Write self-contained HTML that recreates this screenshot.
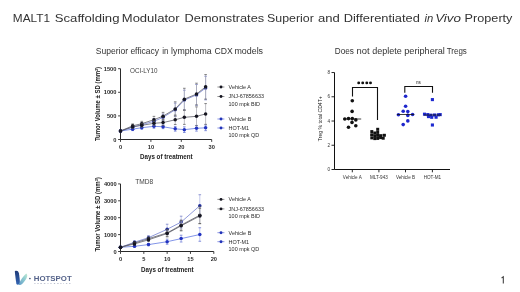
<!DOCTYPE html>
<html><head><meta charset="utf-8"><style>
html,body{margin:0;padding:0;background:#fff;}
body{width:520px;height:292px;overflow:hidden;position:relative;font-family:"Liberation Sans",sans-serif;}
svg{position:absolute;left:0;top:0;will-change:transform;}
</style></head><body>
<svg width="520" height="292" viewBox="0 0 520 292">
<path d="M120.5,68.70 V139.5 H211.70" fill="none" stroke="#2a2a2a" stroke-width="1"/>
<path d="M118.1,139.50 H120.5" stroke="#2a2a2a" stroke-width="0.9"/>
<text x="116.4" y="141.60" font-size="5.7" font-weight="bold" text-anchor="end" fill="#2a2a2a" font-family="Liberation Sans, sans-serif">0</text>
<path d="M118.1,115.90 H120.5" stroke="#2a2a2a" stroke-width="0.9"/>
<text x="116.4" y="118.00" font-size="5.7" font-weight="bold" text-anchor="end" fill="#2a2a2a" font-family="Liberation Sans, sans-serif">500</text>
<path d="M118.1,92.30 H120.5" stroke="#2a2a2a" stroke-width="0.9"/>
<text x="116.4" y="94.40" font-size="5.7" font-weight="bold" text-anchor="end" fill="#2a2a2a" font-family="Liberation Sans, sans-serif">1000</text>
<path d="M118.1,68.70 H120.5" stroke="#2a2a2a" stroke-width="0.9"/>
<text x="116.4" y="70.80" font-size="5.7" font-weight="bold" text-anchor="end" fill="#2a2a2a" font-family="Liberation Sans, sans-serif">1500</text>
<path d="M120.50,139.5 V141.9" stroke="#2a2a2a" stroke-width="0.9"/>
<text x="120.50" y="148.80" font-size="5.7" font-weight="bold" text-anchor="middle" fill="#2a2a2a" font-family="Liberation Sans, sans-serif">0</text>
<path d="M150.90,139.5 V141.9" stroke="#2a2a2a" stroke-width="0.9"/>
<text x="150.90" y="148.80" font-size="5.7" font-weight="bold" text-anchor="middle" fill="#2a2a2a" font-family="Liberation Sans, sans-serif">10</text>
<path d="M181.30,139.5 V141.9" stroke="#2a2a2a" stroke-width="0.9"/>
<text x="181.30" y="148.80" font-size="5.7" font-weight="bold" text-anchor="middle" fill="#2a2a2a" font-family="Liberation Sans, sans-serif">20</text>
<path d="M211.70,139.5 V141.9" stroke="#2a2a2a" stroke-width="0.9"/>
<text x="211.70" y="148.80" font-size="5.7" font-weight="bold" text-anchor="middle" fill="#2a2a2a" font-family="Liberation Sans, sans-serif">30</text>
<path d="M132.66,125.58 V128.88" stroke="#a8b0e4" stroke-width="0.7" fill="none"/>
<path d="M131.36,125.58 H133.96 M131.36,128.88 H133.96" stroke="#6670c0" stroke-width="0.7" fill="none"/>
<path d="M141.78,122.51 V126.76" stroke="#a8b0e4" stroke-width="0.7" fill="none"/>
<path d="M140.48,122.51 H143.08 M140.48,126.76 H143.08" stroke="#6670c0" stroke-width="0.7" fill="none"/>
<path d="M153.94,118.50 V124.16" stroke="#a8b0e4" stroke-width="0.7" fill="none"/>
<path d="M152.64,118.50 H155.24 M152.64,124.16 H155.24" stroke="#6670c0" stroke-width="0.7" fill="none"/>
<path d="M163.06,114.01 V120.62" stroke="#a8b0e4" stroke-width="0.7" fill="none"/>
<path d="M161.76,114.01 H164.36 M161.76,120.62 H164.36" stroke="#6670c0" stroke-width="0.7" fill="none"/>
<path d="M175.22,103.16 V116.37" stroke="#a8b0e4" stroke-width="0.7" fill="none"/>
<path d="M173.92,103.16 H176.52 M173.92,116.37 H176.52" stroke="#6670c0" stroke-width="0.7" fill="none"/>
<path d="M184.34,90.18 V110.00" stroke="#a8b0e4" stroke-width="0.7" fill="none"/>
<path d="M183.04,90.18 H185.64 M183.04,110.00 H185.64" stroke="#6670c0" stroke-width="0.7" fill="none"/>
<path d="M196.50,84.51 V105.28" stroke="#a8b0e4" stroke-width="0.7" fill="none"/>
<path d="M195.20,84.51 H197.80 M195.20,105.28 H197.80" stroke="#6670c0" stroke-width="0.7" fill="none"/>
<path d="M205.62,76.25 V99.85" stroke="#a8b0e4" stroke-width="0.7" fill="none"/>
<path d="M204.32,76.25 H206.92 M204.32,99.85 H206.92" stroke="#6670c0" stroke-width="0.7" fill="none"/>
<path d="M120.50,131.00 L132.66,127.23 L141.78,124.63 L153.94,121.33 L163.06,117.32 L175.22,109.76 L184.34,100.09 L196.50,94.90 L205.62,88.05" fill="none" stroke="#7480d0" stroke-width="0.8"/>
<circle cx="120.50" cy="131.00" r="1.75" fill="#23309a"/>
<circle cx="132.66" cy="127.23" r="1.75" fill="#23309a"/>
<circle cx="141.78" cy="124.63" r="1.75" fill="#23309a"/>
<circle cx="153.94" cy="121.33" r="1.75" fill="#23309a"/>
<circle cx="163.06" cy="117.32" r="1.75" fill="#23309a"/>
<circle cx="175.22" cy="109.76" r="1.75" fill="#23309a"/>
<circle cx="184.34" cy="100.09" r="1.75" fill="#23309a"/>
<circle cx="196.50" cy="94.90" r="1.75" fill="#23309a"/>
<circle cx="205.62" cy="88.05" r="1.75" fill="#23309a"/>
<path d="M132.66,127.75 V130.58" stroke="#a0aaea" stroke-width="0.7" fill="none"/>
<path d="M131.36,127.75 H133.96 M131.36,130.58 H133.96" stroke="#5566cc" stroke-width="0.7" fill="none"/>
<path d="M141.78,126.28 V129.12" stroke="#a0aaea" stroke-width="0.7" fill="none"/>
<path d="M140.48,126.28 H143.08 M140.48,129.12 H143.08" stroke="#5566cc" stroke-width="0.7" fill="none"/>
<path d="M153.94,124.44 V128.22" stroke="#a0aaea" stroke-width="0.7" fill="none"/>
<path d="M152.64,124.44 H155.24 M152.64,128.22 H155.24" stroke="#5566cc" stroke-width="0.7" fill="none"/>
<path d="M163.06,124.87 V128.64" stroke="#a0aaea" stroke-width="0.7" fill="none"/>
<path d="M161.76,124.87 H164.36 M161.76,128.64 H164.36" stroke="#5566cc" stroke-width="0.7" fill="none"/>
<path d="M175.22,126.43 V131.15" stroke="#a0aaea" stroke-width="0.7" fill="none"/>
<path d="M173.92,126.43 H176.52 M173.92,131.15 H176.52" stroke="#5566cc" stroke-width="0.7" fill="none"/>
<path d="M184.34,126.85 V132.51" stroke="#a0aaea" stroke-width="0.7" fill="none"/>
<path d="M183.04,126.85 H185.64 M183.04,132.51 H185.64" stroke="#5566cc" stroke-width="0.7" fill="none"/>
<path d="M196.50,125.43 V131.10" stroke="#a0aaea" stroke-width="0.7" fill="none"/>
<path d="M195.20,125.43 H197.80 M195.20,131.10 H197.80" stroke="#5566cc" stroke-width="0.7" fill="none"/>
<path d="M205.62,125.01 V130.67" stroke="#a0aaea" stroke-width="0.7" fill="none"/>
<path d="M204.32,125.01 H206.92 M204.32,130.67 H206.92" stroke="#5566cc" stroke-width="0.7" fill="none"/>
<path d="M120.50,131.00 L132.66,129.16 L141.78,127.70 L153.94,126.33 L163.06,126.76 L175.22,128.79 L184.34,129.68 L196.50,128.27 L205.62,127.84" fill="none" stroke="#5a72e0" stroke-width="0.75"/>
<circle cx="120.50" cy="131.00" r="1.75" fill="#2233c0"/>
<circle cx="132.66" cy="129.16" r="1.75" fill="#2233c0"/>
<circle cx="141.78" cy="127.70" r="1.75" fill="#2233c0"/>
<circle cx="153.94" cy="126.33" r="1.75" fill="#2233c0"/>
<circle cx="163.06" cy="126.76" r="1.75" fill="#2233c0"/>
<circle cx="175.22" cy="128.79" r="1.75" fill="#2233c0"/>
<circle cx="184.34" cy="129.68" r="1.75" fill="#2233c0"/>
<circle cx="196.50" cy="128.27" r="1.75" fill="#2233c0"/>
<circle cx="205.62" cy="127.84" r="1.75" fill="#2233c0"/>
<path d="M132.66,123.92 V127.70" stroke="#a0a0aa" stroke-width="0.7" fill="none"/>
<path d="M131.36,123.92 H133.96 M131.36,127.70 H133.96" stroke="#555" stroke-width="0.7" fill="none"/>
<path d="M141.78,121.33 V126.05" stroke="#a0a0aa" stroke-width="0.7" fill="none"/>
<path d="M140.48,121.33 H143.08 M140.48,126.05 H143.08" stroke="#555" stroke-width="0.7" fill="none"/>
<path d="M153.94,116.37 V122.98" stroke="#a0a0aa" stroke-width="0.7" fill="none"/>
<path d="M152.64,116.37 H155.24 M152.64,122.98 H155.24" stroke="#555" stroke-width="0.7" fill="none"/>
<path d="M163.06,112.36 V119.91" stroke="#a0a0aa" stroke-width="0.7" fill="none"/>
<path d="M161.76,112.36 H164.36 M161.76,119.91 H164.36" stroke="#555" stroke-width="0.7" fill="none"/>
<path d="M175.22,101.83 V115.99" stroke="#a0a0aa" stroke-width="0.7" fill="none"/>
<path d="M173.92,101.83 H176.52 M173.92,115.99 H176.52" stroke="#555" stroke-width="0.7" fill="none"/>
<path d="M184.34,88.29 V110.00" stroke="#a0a0aa" stroke-width="0.7" fill="none"/>
<path d="M183.04,88.29 H185.64 M183.04,110.00 H185.64" stroke="#555" stroke-width="0.7" fill="none"/>
<path d="M196.50,83.19 V104.90" stroke="#a0a0aa" stroke-width="0.7" fill="none"/>
<path d="M195.20,83.19 H197.80 M195.20,104.90 H197.80" stroke="#555" stroke-width="0.7" fill="none"/>
<path d="M205.62,74.55 V99.10" stroke="#a0a0aa" stroke-width="0.7" fill="none"/>
<path d="M204.32,74.55 H206.92 M204.32,99.10 H206.92" stroke="#555" stroke-width="0.7" fill="none"/>
<path d="M120.50,131.00 L132.66,125.81 L141.78,123.69 L153.94,119.68 L163.06,116.14 L175.22,108.91 L184.34,99.14 L196.50,94.05 L205.62,86.82" fill="none" stroke="#555560" stroke-width="0.75"/>
<circle cx="120.50" cy="131.00" r="1.75" fill="#151520"/>
<circle cx="132.66" cy="125.81" r="1.75" fill="#151520"/>
<circle cx="141.78" cy="123.69" r="1.75" fill="#151520"/>
<circle cx="153.94" cy="119.68" r="1.75" fill="#151520"/>
<circle cx="163.06" cy="116.14" r="1.75" fill="#151520"/>
<circle cx="175.22" cy="108.91" r="1.75" fill="#151520"/>
<circle cx="184.34" cy="99.14" r="1.75" fill="#151520"/>
<circle cx="196.50" cy="94.05" r="1.75" fill="#151520"/>
<circle cx="205.62" cy="86.82" r="1.75" fill="#151520"/>
<path d="M132.66,125.20 V128.50" stroke="#a0a0aa" stroke-width="0.7" fill="none"/>
<path d="M131.36,125.20 H133.96 M131.36,128.50 H133.96" stroke="#555" stroke-width="0.7" fill="none"/>
<path d="M141.78,123.45 V127.23" stroke="#a0a0aa" stroke-width="0.7" fill="none"/>
<path d="M140.48,123.45 H143.08 M140.48,127.23 H143.08" stroke="#555" stroke-width="0.7" fill="none"/>
<path d="M153.94,120.95 V125.67" stroke="#a0a0aa" stroke-width="0.7" fill="none"/>
<path d="M152.64,120.95 H155.24 M152.64,125.67 H155.24" stroke="#555" stroke-width="0.7" fill="none"/>
<path d="M163.06,119.77 V125.43" stroke="#a0a0aa" stroke-width="0.7" fill="none"/>
<path d="M161.76,119.77 H164.36 M161.76,125.43 H164.36" stroke="#555" stroke-width="0.7" fill="none"/>
<path d="M175.22,115.05 V124.49" stroke="#a0a0aa" stroke-width="0.7" fill="none"/>
<path d="M173.92,115.05 H176.52 M173.92,124.49 H176.52" stroke="#555" stroke-width="0.7" fill="none"/>
<path d="M184.34,110.24 V124.40" stroke="#a0a0aa" stroke-width="0.7" fill="none"/>
<path d="M183.04,110.24 H185.64 M183.04,124.40 H185.64" stroke="#555" stroke-width="0.7" fill="none"/>
<path d="M196.50,106.88 V125.76" stroke="#a0a0aa" stroke-width="0.7" fill="none"/>
<path d="M195.20,106.88 H197.80 M195.20,125.76 H197.80" stroke="#555" stroke-width="0.7" fill="none"/>
<path d="M205.62,103.58 V124.35" stroke="#a0a0aa" stroke-width="0.7" fill="none"/>
<path d="M204.32,103.58 H206.92 M204.32,124.35 H206.92" stroke="#555" stroke-width="0.7" fill="none"/>
<path d="M120.50,131.00 L132.66,126.85 L141.78,125.34 L153.94,123.31 L163.06,122.60 L175.22,119.77 L184.34,117.32 L196.50,116.32 L205.62,113.96" fill="none" stroke="#555560" stroke-width="0.75"/>
<circle cx="120.50" cy="131.00" r="1.75" fill="#151520"/>
<circle cx="132.66" cy="126.85" r="1.75" fill="#151520"/>
<circle cx="141.78" cy="125.34" r="1.75" fill="#151520"/>
<circle cx="153.94" cy="123.31" r="1.75" fill="#151520"/>
<circle cx="163.06" cy="122.60" r="1.75" fill="#151520"/>
<circle cx="175.22" cy="119.77" r="1.75" fill="#151520"/>
<circle cx="184.34" cy="117.32" r="1.75" fill="#151520"/>
<circle cx="196.50" cy="116.32" r="1.75" fill="#151520"/>
<circle cx="205.62" cy="113.96" r="1.75" fill="#151520"/>
<path d="M120.5,183.90 V251.5 H213.80" fill="none" stroke="#2a2a2a" stroke-width="1"/>
<path d="M118.1,251.50 H120.5" stroke="#2a2a2a" stroke-width="0.9"/>
<text x="116.6" y="253.60" font-size="5.7" font-weight="bold" text-anchor="end" fill="#2a2a2a" font-family="Liberation Sans, sans-serif">0</text>
<path d="M118.1,234.60 H120.5" stroke="#2a2a2a" stroke-width="0.9"/>
<text x="116.6" y="236.70" font-size="5.7" font-weight="bold" text-anchor="end" fill="#2a2a2a" font-family="Liberation Sans, sans-serif">1000</text>
<path d="M118.1,217.70 H120.5" stroke="#2a2a2a" stroke-width="0.9"/>
<text x="116.6" y="219.80" font-size="5.7" font-weight="bold" text-anchor="end" fill="#2a2a2a" font-family="Liberation Sans, sans-serif">2000</text>
<path d="M118.1,200.80 H120.5" stroke="#2a2a2a" stroke-width="0.9"/>
<text x="116.6" y="202.90" font-size="5.7" font-weight="bold" text-anchor="end" fill="#2a2a2a" font-family="Liberation Sans, sans-serif">3000</text>
<path d="M118.1,183.90 H120.5" stroke="#2a2a2a" stroke-width="0.9"/>
<text x="116.6" y="186.00" font-size="5.7" font-weight="bold" text-anchor="end" fill="#2a2a2a" font-family="Liberation Sans, sans-serif">4000</text>
<path d="M120.50,251.5 V253.9" stroke="#2a2a2a" stroke-width="0.9"/>
<text x="120.50" y="260.80" font-size="5.7" font-weight="bold" text-anchor="middle" fill="#2a2a2a" font-family="Liberation Sans, sans-serif">0</text>
<path d="M143.82,251.5 V253.9" stroke="#2a2a2a" stroke-width="0.9"/>
<text x="143.82" y="260.80" font-size="5.7" font-weight="bold" text-anchor="middle" fill="#2a2a2a" font-family="Liberation Sans, sans-serif">5</text>
<path d="M167.15,251.5 V253.9" stroke="#2a2a2a" stroke-width="0.9"/>
<text x="167.15" y="260.80" font-size="5.7" font-weight="bold" text-anchor="middle" fill="#2a2a2a" font-family="Liberation Sans, sans-serif">10</text>
<path d="M190.47,251.5 V253.9" stroke="#2a2a2a" stroke-width="0.9"/>
<text x="190.47" y="260.80" font-size="5.7" font-weight="bold" text-anchor="middle" fill="#2a2a2a" font-family="Liberation Sans, sans-serif">15</text>
<path d="M213.80,251.5 V253.9" stroke="#2a2a2a" stroke-width="0.9"/>
<text x="213.80" y="260.80" font-size="5.7" font-weight="bold" text-anchor="middle" fill="#2a2a2a" font-family="Liberation Sans, sans-serif">20</text>
<path d="M134.50,240.85 V243.56" stroke="#a8b0e4" stroke-width="0.7" fill="none"/>
<path d="M133.19,240.85 H135.80 M133.19,243.56 H135.80" stroke="#6670c0" stroke-width="0.7" fill="none"/>
<path d="M148.49,235.66 V239.72" stroke="#a8b0e4" stroke-width="0.7" fill="none"/>
<path d="M147.19,235.66 H149.79 M147.19,239.72 H149.79" stroke="#6670c0" stroke-width="0.7" fill="none"/>
<path d="M167.15,224.22 V234.36" stroke="#a8b0e4" stroke-width="0.7" fill="none"/>
<path d="M165.85,224.22 H168.45 M165.85,234.36 H168.45" stroke="#6670c0" stroke-width="0.7" fill="none"/>
<path d="M181.15,216.18 V228.01" stroke="#a8b0e4" stroke-width="0.7" fill="none"/>
<path d="M179.84,216.18 H182.45 M179.84,228.01 H182.45" stroke="#6670c0" stroke-width="0.7" fill="none"/>
<path d="M199.81,194.72 V216.69" stroke="#a8b0e4" stroke-width="0.7" fill="none"/>
<path d="M198.50,194.72 H201.11 M198.50,216.69 H201.11" stroke="#6670c0" stroke-width="0.7" fill="none"/>
<path d="M120.50,247.31 L134.50,242.21 L148.49,237.69 L167.15,229.29 L181.15,222.09 L199.81,205.70" fill="none" stroke="#7480d0" stroke-width="0.8"/>
<circle cx="120.50" cy="247.31" r="1.75" fill="#23309a"/>
<circle cx="134.50" cy="242.21" r="1.75" fill="#23309a"/>
<circle cx="148.49" cy="237.69" r="1.75" fill="#23309a"/>
<circle cx="167.15" cy="229.29" r="1.75" fill="#23309a"/>
<circle cx="181.15" cy="222.09" r="1.75" fill="#23309a"/>
<circle cx="199.81" cy="205.70" r="1.75" fill="#23309a"/>
<path d="M134.50,245.28 V247.31" stroke="#a0aaea" stroke-width="0.7" fill="none"/>
<path d="M133.19,245.28 H135.80 M133.19,247.31 H135.80" stroke="#5566cc" stroke-width="0.7" fill="none"/>
<path d="M148.49,243.42 V245.79" stroke="#a0aaea" stroke-width="0.7" fill="none"/>
<path d="M147.19,243.42 H149.79 M147.19,245.79 H149.79" stroke="#5566cc" stroke-width="0.7" fill="none"/>
<path d="M167.15,239.16 V244.23" stroke="#a0aaea" stroke-width="0.7" fill="none"/>
<path d="M165.85,239.16 H168.45 M165.85,244.23 H168.45" stroke="#5566cc" stroke-width="0.7" fill="none"/>
<path d="M181.15,235.23 V241.99" stroke="#a0aaea" stroke-width="0.7" fill="none"/>
<path d="M179.84,235.23 H182.45 M179.84,241.99 H182.45" stroke="#5566cc" stroke-width="0.7" fill="none"/>
<path d="M199.81,227.74 V241.26" stroke="#a0aaea" stroke-width="0.7" fill="none"/>
<path d="M198.50,227.74 H201.11 M198.50,241.26 H201.11" stroke="#5566cc" stroke-width="0.7" fill="none"/>
<path d="M120.50,247.31 L134.50,246.29 L148.49,244.60 L167.15,241.70 L181.15,238.61 L199.81,234.50" fill="none" stroke="#5a72e0" stroke-width="0.75"/>
<circle cx="120.50" cy="247.31" r="1.75" fill="#2233c0"/>
<circle cx="134.50" cy="246.29" r="1.75" fill="#2233c0"/>
<circle cx="148.49" cy="244.60" r="1.75" fill="#2233c0"/>
<circle cx="167.15" cy="241.70" r="1.75" fill="#2233c0"/>
<circle cx="181.15" cy="238.61" r="1.75" fill="#2233c0"/>
<circle cx="199.81" cy="234.50" r="1.75" fill="#2233c0"/>
<path d="M134.50,241.70 V244.40" stroke="#a0a0aa" stroke-width="0.7" fill="none"/>
<path d="M133.19,241.70 H135.80 M133.19,244.40 H135.80" stroke="#555" stroke-width="0.7" fill="none"/>
<path d="M148.49,236.97 V240.35" stroke="#a0a0aa" stroke-width="0.7" fill="none"/>
<path d="M147.19,236.97 H149.79 M147.19,240.35 H149.79" stroke="#555" stroke-width="0.7" fill="none"/>
<path d="M167.15,229.53 V236.29" stroke="#a0a0aa" stroke-width="0.7" fill="none"/>
<path d="M165.85,229.53 H168.45 M165.85,236.29 H168.45" stroke="#555" stroke-width="0.7" fill="none"/>
<path d="M181.15,220.07 V230.21" stroke="#a0a0aa" stroke-width="0.7" fill="none"/>
<path d="M179.84,220.07 H182.45 M179.84,230.21 H182.45" stroke="#555" stroke-width="0.7" fill="none"/>
<path d="M199.81,206.72 V223.62" stroke="#a0a0aa" stroke-width="0.7" fill="none"/>
<path d="M198.50,206.72 H201.11 M198.50,223.62 H201.11" stroke="#555" stroke-width="0.7" fill="none"/>
<path d="M120.50,247.31 L134.50,243.05 L148.49,238.66 L167.15,232.91 L181.15,225.14 L199.81,215.17" fill="none" stroke="#555560" stroke-width="0.75"/>
<circle cx="120.50" cy="247.31" r="1.75" fill="#151520"/>
<circle cx="134.50" cy="243.05" r="1.75" fill="#151520"/>
<circle cx="148.49" cy="238.66" r="1.75" fill="#151520"/>
<circle cx="167.15" cy="232.91" r="1.75" fill="#151520"/>
<circle cx="181.15" cy="225.14" r="1.75" fill="#151520"/>
<circle cx="199.81" cy="215.17" r="1.75" fill="#151520"/>
<path d="M134.50,242.54 V245.25" stroke="#a0a0aa" stroke-width="0.7" fill="none"/>
<path d="M133.19,242.54 H135.80 M133.19,245.25 H135.80" stroke="#555" stroke-width="0.7" fill="none"/>
<path d="M148.49,238.12 V241.50" stroke="#a0a0aa" stroke-width="0.7" fill="none"/>
<path d="M147.19,238.12 H149.79 M147.19,241.50 H149.79" stroke="#555" stroke-width="0.7" fill="none"/>
<path d="M167.15,230.12 V236.88" stroke="#a0a0aa" stroke-width="0.7" fill="none"/>
<path d="M165.85,230.12 H168.45 M165.85,236.88 H168.45" stroke="#555" stroke-width="0.7" fill="none"/>
<path d="M181.15,220.74 V230.88" stroke="#a0a0aa" stroke-width="0.7" fill="none"/>
<path d="M179.84,220.74 H182.45 M179.84,230.88 H182.45" stroke="#555" stroke-width="0.7" fill="none"/>
<path d="M199.81,208.41 V223.61" stroke="#a0a0aa" stroke-width="0.7" fill="none"/>
<path d="M198.50,208.41 H201.11 M198.50,223.61 H201.11" stroke="#555" stroke-width="0.7" fill="none"/>
<path d="M120.50,247.31 L134.50,243.90 L148.49,239.81 L167.15,233.50 L181.15,225.81 L199.81,216.01" fill="none" stroke="#555560" stroke-width="0.75"/>
<circle cx="120.50" cy="247.31" r="1.75" fill="#151520"/>
<circle cx="134.50" cy="243.90" r="1.75" fill="#151520"/>
<circle cx="148.49" cy="239.81" r="1.75" fill="#151520"/>
<circle cx="167.15" cy="233.50" r="1.75" fill="#151520"/>
<circle cx="181.15" cy="225.81" r="1.75" fill="#151520"/>
<circle cx="199.81" cy="216.01" r="1.75" fill="#151520"/>
<path d="M217.4,87 H224.4" stroke="#666" stroke-width="0.7"/>
<circle cx="221" cy="87" r="1.45" fill="#151520"/>
<text x="228.6" y="88.90" font-size="5.45" fill="#2a2a2a" font-family="Liberation Sans, sans-serif">Vehicle A</text>
<path d="M217.4,96.5 H224.4" stroke="#666" stroke-width="0.7"/>
<circle cx="221" cy="96.5" r="1.45" fill="#151520"/>
<text x="228.6" y="98.40" font-size="5.45" fill="#2a2a2a" font-family="Liberation Sans, sans-serif">JNJ-67856633</text>
<text x="228.6" y="105.70" font-size="5.45" fill="#2a2a2a" font-family="Liberation Sans, sans-serif">100 mpk BID</text>
<path d="M217.4,119 H224.4" stroke="#5a6ad8" stroke-width="0.7"/>
<circle cx="221" cy="119" r="1.45" fill="#2233b8"/>
<text x="228.6" y="120.90" font-size="5.45" fill="#2a2a2a" font-family="Liberation Sans, sans-serif">Vehicle B</text>
<path d="M217.4,128 H224.4" stroke="#5a6ad8" stroke-width="0.7"/>
<circle cx="221" cy="128" r="1.45" fill="#2233b8"/>
<text x="228.6" y="129.90" font-size="5.45" fill="#2a2a2a" font-family="Liberation Sans, sans-serif">HOT-M1</text>
<text x="228.6" y="137.20" font-size="5.45" fill="#2a2a2a" font-family="Liberation Sans, sans-serif">100 mpk QD</text>
<path d="M217.4,199.4 H224.4" stroke="#666" stroke-width="0.7"/>
<circle cx="221" cy="199.4" r="1.45" fill="#151520"/>
<text x="228.6" y="201.30" font-size="5.45" fill="#2a2a2a" font-family="Liberation Sans, sans-serif">Vehicle A</text>
<path d="M217.4,208.9 H224.4" stroke="#666" stroke-width="0.7"/>
<circle cx="221" cy="208.9" r="1.45" fill="#151520"/>
<text x="228.6" y="210.80" font-size="5.45" fill="#2a2a2a" font-family="Liberation Sans, sans-serif">JNJ-67856633</text>
<text x="228.6" y="218.10" font-size="5.45" fill="#2a2a2a" font-family="Liberation Sans, sans-serif">100 mpk BID</text>
<path d="M217.4,232.7 H224.4" stroke="#5a6ad8" stroke-width="0.7"/>
<circle cx="221" cy="232.7" r="1.45" fill="#2233b8"/>
<text x="228.6" y="234.60" font-size="5.45" fill="#2a2a2a" font-family="Liberation Sans, sans-serif">Vehicle B</text>
<path d="M217.4,241.7 H224.4" stroke="#5a6ad8" stroke-width="0.7"/>
<circle cx="221" cy="241.7" r="1.45" fill="#2233b8"/>
<text x="228.6" y="243.60" font-size="5.45" fill="#2a2a2a" font-family="Liberation Sans, sans-serif">HOT-M1</text>
<text x="228.6" y="250.90" font-size="5.45" fill="#2a2a2a" font-family="Liberation Sans, sans-serif">100 mpk QD</text>
<text x="130" y="72.5" font-size="6.3" fill="#444" textLength="27.6" lengthAdjust="spacingAndGlyphs" font-family="Liberation Sans, sans-serif">OCI-LY10</text>
<text x="135.2" y="183.7" font-size="6.3" fill="#444" textLength="18" lengthAdjust="spacingAndGlyphs" font-family="Liberation Sans, sans-serif">TMD8</text>
<text x="140" y="158.6" font-size="6.3" font-weight="bold" fill="#222" textLength="52.6" lengthAdjust="spacingAndGlyphs" font-family="Liberation Sans, sans-serif">Days of treatment</text>
<text x="141" y="272" font-size="6.3" font-weight="bold" fill="#222" textLength="52.6" lengthAdjust="spacingAndGlyphs" font-family="Liberation Sans, sans-serif">Days of treatment</text>
<text transform="translate(100.2,141.1) rotate(-90)" font-size="6.4" font-weight="bold" fill="#222" textLength="74.19999999999999" lengthAdjust="spacingAndGlyphs" font-family="Liberation Sans, sans-serif">Tumor Volume ± SD (mm<tspan font-size="4" dy="-2.4">3</tspan><tspan dy="2.4">)</tspan></text>
<text transform="translate(100.1,251.6) rotate(-90)" font-size="6.4" font-weight="bold" fill="#222" textLength="74.4" lengthAdjust="spacingAndGlyphs" font-family="Liberation Sans, sans-serif">Tumor Volume ± SD (mm<tspan font-size="4" dy="-2.4">3</tspan><tspan dy="2.4">)</tspan></text>
<path d="M334.5,72.54 V169.5 H450" fill="none" stroke="#111" stroke-width="1"/>
<path d="M331.5,169.50 H334.5" stroke="#111" stroke-width="0.9"/>
<text x="330.1" y="171.10" font-size="4.6" text-anchor="end" fill="#333" font-family="Liberation Sans, sans-serif">0</text>
<path d="M331.5,145.26 H334.5" stroke="#111" stroke-width="0.9"/>
<text x="330.1" y="146.86" font-size="4.6" text-anchor="end" fill="#333" font-family="Liberation Sans, sans-serif">2</text>
<path d="M331.5,121.02 H334.5" stroke="#111" stroke-width="0.9"/>
<text x="330.1" y="122.62" font-size="4.6" text-anchor="end" fill="#333" font-family="Liberation Sans, sans-serif">4</text>
<path d="M331.5,96.78 H334.5" stroke="#111" stroke-width="0.9"/>
<text x="330.1" y="98.38" font-size="4.6" text-anchor="end" fill="#333" font-family="Liberation Sans, sans-serif">6</text>
<path d="M331.5,72.54 H334.5" stroke="#111" stroke-width="0.9"/>
<text x="330.1" y="74.14" font-size="4.6" text-anchor="end" fill="#333" font-family="Liberation Sans, sans-serif">8</text>
<path d="M352.3,169.5 V172.3" stroke="#111" stroke-width="0.9"/>
<text x="352.3" y="178.6" font-size="4.6" text-anchor="middle" fill="#333" font-family="Liberation Sans, sans-serif">Vehicle A</text>
<path d="M378.9,169.5 V172.3" stroke="#111" stroke-width="0.9"/>
<text x="378.9" y="178.6" font-size="4.6" text-anchor="middle" fill="#333" font-family="Liberation Sans, sans-serif">MLT-943</text>
<path d="M405.5,169.5 V172.3" stroke="#111" stroke-width="0.9"/>
<text x="405.5" y="178.6" font-size="4.6" text-anchor="middle" fill="#333" font-family="Liberation Sans, sans-serif">Vehicle B</text>
<path d="M432.4,169.5 V172.3" stroke="#111" stroke-width="0.9"/>
<text x="432.4" y="178.6" font-size="4.6" text-anchor="middle" fill="#333" font-family="Liberation Sans, sans-serif">HOT-M1</text>
<text transform="translate(322.3,141.2) rotate(-90)" font-size="5.2" fill="#222" textLength="45" lengthAdjust="spacingAndGlyphs" font-family="Liberation Sans, sans-serif">Treg % total CD4T+</text>
<circle cx="352.3" cy="100.8" r="1.8" fill="#111"/>
<circle cx="352.1" cy="111.4" r="1.8" fill="#111"/>
<circle cx="344.8" cy="119" r="1.8" fill="#111"/>
<circle cx="348.5" cy="118.6" r="1.8" fill="#111"/>
<circle cx="352.3" cy="118.6" r="1.8" fill="#111"/>
<circle cx="355.8" cy="119.9" r="1.8" fill="#111"/>
<circle cx="352" cy="122.4" r="1.8" fill="#111"/>
<circle cx="348.5" cy="127.2" r="1.8" fill="#111"/>
<circle cx="355.8" cy="125.8" r="1.8" fill="#111"/>
<path d="M343.4,119 H361.2" stroke="#111" stroke-width="0.8"/>
<rect x="376.20" y="127.80" width="3" height="3" fill="#111"/>
<rect x="370.30" y="130.10" width="3" height="3" fill="#111"/>
<rect x="373.30" y="131.50" width="3" height="3" fill="#111"/>
<rect x="376.20" y="130.90" width="3" height="3" fill="#111"/>
<rect x="370.30" y="133.30" width="3" height="3" fill="#111"/>
<rect x="373.30" y="134.60" width="3" height="3" fill="#111"/>
<rect x="376.20" y="133.90" width="3" height="3" fill="#111"/>
<rect x="379.10" y="134.30" width="3" height="3" fill="#111"/>
<rect x="370.30" y="136.40" width="3" height="3" fill="#111"/>
<rect x="373.30" y="137.10" width="3" height="3" fill="#111"/>
<rect x="376.20" y="136.90" width="3" height="3" fill="#111"/>
<rect x="379.10" y="136.10" width="3" height="3" fill="#111"/>
<rect x="382.80" y="133.80" width="3" height="3" fill="#111"/>
<rect x="381.70" y="136.70" width="3" height="3" fill="#111"/>
<path d="M370,135 H386" stroke="#111" stroke-width="0.8"/>
<circle cx="405.6" cy="96.2" r="1.8" fill="#1e26cc"/>
<circle cx="405.6" cy="106.2" r="1.8" fill="#1e26cc"/>
<circle cx="403.2" cy="111.3" r="1.8" fill="#1e26cc"/>
<circle cx="407.8" cy="111.6" r="1.8" fill="#1e26cc"/>
<circle cx="398.4" cy="114.7" r="1.8" fill="#1e26cc"/>
<circle cx="407.8" cy="115.4" r="1.8" fill="#1e26cc"/>
<circle cx="412.6" cy="114.5" r="1.8" fill="#1e26cc"/>
<circle cx="407.8" cy="120.9" r="1.8" fill="#1e26cc"/>
<circle cx="403.2" cy="124.6" r="1.8" fill="#1e26cc"/>
<path d="M397,114.5 H414.2" stroke="#111" stroke-width="0.8"/>
<rect x="430.85" y="98.05" width="3.1" height="3.1" fill="#1e2ad0"/>
<rect x="422.95" y="112.65" width="3.1" height="3.1" fill="#1e2ad0"/>
<rect x="426.25" y="113.05" width="3.1" height="3.1" fill="#1e2ad0"/>
<rect x="429.35" y="113.65" width="3.1" height="3.1" fill="#1e2ad0"/>
<rect x="432.95" y="113.45" width="3.1" height="3.1" fill="#1e2ad0"/>
<rect x="436.75" y="113.25" width="3.1" height="3.1" fill="#1e2ad0"/>
<rect x="438.65" y="113.05" width="3.1" height="3.1" fill="#1e2ad0"/>
<rect x="430.15" y="115.75" width="3.1" height="3.1" fill="#1e2ad0"/>
<rect x="434.55" y="115.65" width="3.1" height="3.1" fill="#1e2ad0"/>
<rect x="426.95" y="115.05" width="3.1" height="3.1" fill="#1e2ad0"/>
<rect x="430.85" y="123.45" width="3.1" height="3.1" fill="#1e2ad0"/>
<path d="M424,115 H441" stroke="#111" stroke-width="0.8"/>
<path d="M352.5,96.5 V87.5 H377.5 V120" fill="none" stroke="#111" stroke-width="1.1"/>
<circle cx="358.7" cy="82.9" r="1.45" fill="#111"/>
<circle cx="362.7" cy="82.9" r="1.45" fill="#111"/>
<circle cx="366.8" cy="82.9" r="1.45" fill="#111"/>
<circle cx="370.5" cy="82.9" r="1.45" fill="#111"/>
<path d="M404.8,92.8 V86.5 H432.5 V92.8" fill="none" stroke="#111" stroke-width="1.1"/>
<text x="418.5" y="84" font-size="4.6" text-anchor="middle" fill="#222" font-family="Liberation Sans, sans-serif">ns</text>

<defs>
<linearGradient id="lg1" x1="0" y1="0" x2="0" y2="1"><stop offset="0" stop-color="#1f3a78"/><stop offset="1" stop-color="#3466b4"/></linearGradient>
<linearGradient id="lg2" x1="0" y1="1" x2="1" y2="0"><stop offset="0" stop-color="#4a8cc0"/><stop offset="0.6" stop-color="#7cc4c8"/><stop offset="1" stop-color="#b8e6cc"/></linearGradient>
</defs>
<path d="M14.8,271.2 C16.4,270.2 18.4,270.8 18.9,273.2 C19.5,276.5 19.9,280 19.9,282.6 C19.9,284.8 17.2,285.4 16.4,283.9 C15.8,280 15.2,275.5 14.8,271.2 Z" fill="url(#lg1)"/>
<path d="M18.6,284.2 C20.6,280.2 23.2,276.4 26.2,273.6 C27.6,274.2 27.6,276.4 26.4,278.4 C25,280.8 23,283 21.4,284.6 C20.6,285.3 19.1,285.2 18.6,284.2 Z" fill="url(#lg2)" opacity="0.85"/>
<circle cx="29.9" cy="278.5" r="0.85" fill="#4a5a7a"/>

<text x="33.8" y="280.5" font-size="6.8" font-weight="bold" fill="#55638a" textLength="37.9" lengthAdjust="spacingAndGlyphs" font-family="Liberation Sans, sans-serif">HOTSPOT</text>
<text x="34.2" y="284" font-size="2.3" font-weight="bold" fill="#9098b0" textLength="36.4" lengthAdjust="spacing" font-family="Liberation Sans, sans-serif">THERAPEUTICS</text>
<text x="12.87" y="22.1" font-size="11.5" fill="#333" textLength="37.17" lengthAdjust="spacingAndGlyphs" font-family="Liberation Sans, sans-serif">MALT1</text>
<text x="54.78" y="22.1" font-size="11.5" fill="#333" textLength="64.71" lengthAdjust="spacingAndGlyphs" font-family="Liberation Sans, sans-serif">Scaffolding</text>
<text x="121.81" y="22.1" font-size="11.5" fill="#333" textLength="57.87" lengthAdjust="spacingAndGlyphs" font-family="Liberation Sans, sans-serif">Modulator</text>
<text x="184.55" y="22.1" font-size="11.5" fill="#333" textLength="79.61" lengthAdjust="spacingAndGlyphs" font-family="Liberation Sans, sans-serif">Demonstrates</text>
<text x="267.00" y="22.1" font-size="11.5" fill="#333" textLength="46.81" lengthAdjust="spacingAndGlyphs" font-family="Liberation Sans, sans-serif">Superior</text>
<text x="318.05" y="22.1" font-size="11.5" fill="#333" textLength="21.81" lengthAdjust="spacingAndGlyphs" font-family="Liberation Sans, sans-serif">and</text>
<text x="343.72" y="22.1" font-size="11.5" fill="#333" textLength="76.15" lengthAdjust="spacingAndGlyphs" font-family="Liberation Sans, sans-serif">Differentiated</text>
<text x="424.43" y="22.1" font-size="11.5" fill="#333" font-style="italic" textLength="8.77" lengthAdjust="spacingAndGlyphs" font-family="Liberation Sans, sans-serif">in</text>
<text x="435.16" y="22.1" font-size="11.5" fill="#333" font-style="italic" textLength="25.90" lengthAdjust="spacingAndGlyphs" font-family="Liberation Sans, sans-serif">Vivo</text>
<text x="464.62" y="22.1" font-size="11.5" fill="#333" textLength="47.84" lengthAdjust="spacingAndGlyphs" font-family="Liberation Sans, sans-serif">Property</text>
<text x="95.79" y="53.8" font-size="8.4" fill="#333" textLength="32.20" lengthAdjust="spacingAndGlyphs" font-family="Liberation Sans, sans-serif">Superior</text>
<text x="130.40" y="53.8" font-size="8.4" fill="#333" textLength="28.68" lengthAdjust="spacingAndGlyphs" font-family="Liberation Sans, sans-serif">efficacy</text>
<text x="162.31" y="53.8" font-size="8.4" fill="#333" textLength="6.26" lengthAdjust="spacingAndGlyphs" font-family="Liberation Sans, sans-serif">in</text>
<text x="171.12" y="53.8" font-size="8.4" fill="#333" textLength="40.46" lengthAdjust="spacingAndGlyphs" font-family="Liberation Sans, sans-serif">lymphoma</text>
<text x="214.53" y="53.8" font-size="8.4" fill="#333" textLength="18.30" lengthAdjust="spacingAndGlyphs" font-family="Liberation Sans, sans-serif">CDX</text>
<text x="234.40" y="53.8" font-size="8.4" fill="#333" textLength="28.67" lengthAdjust="spacingAndGlyphs" font-family="Liberation Sans, sans-serif">models</text>
<text x="334.79" y="53.8" font-size="8.4" fill="#333" textLength="19.13" lengthAdjust="spacingAndGlyphs" font-family="Liberation Sans, sans-serif">Does</text>
<text x="356.44" y="53.8" font-size="8.4" fill="#333" textLength="13.09" lengthAdjust="spacingAndGlyphs" font-family="Liberation Sans, sans-serif">not</text>
<text x="372.39" y="53.8" font-size="8.4" fill="#333" textLength="29.48" lengthAdjust="spacingAndGlyphs" font-family="Liberation Sans, sans-serif">deplete</text>
<text x="404.24" y="53.8" font-size="8.4" fill="#333" textLength="40.65" lengthAdjust="spacingAndGlyphs" font-family="Liberation Sans, sans-serif">peripheral</text>
<text x="446.78" y="53.8" font-size="8.4" fill="#333" textLength="20.09" lengthAdjust="spacingAndGlyphs" font-family="Liberation Sans, sans-serif">Tregs</text>
<path d="M503.3,283.6 V276.7 L501.6,278" fill="none" stroke="#3a3a3a" stroke-width="1.05"/>
</svg>
</body></html>
